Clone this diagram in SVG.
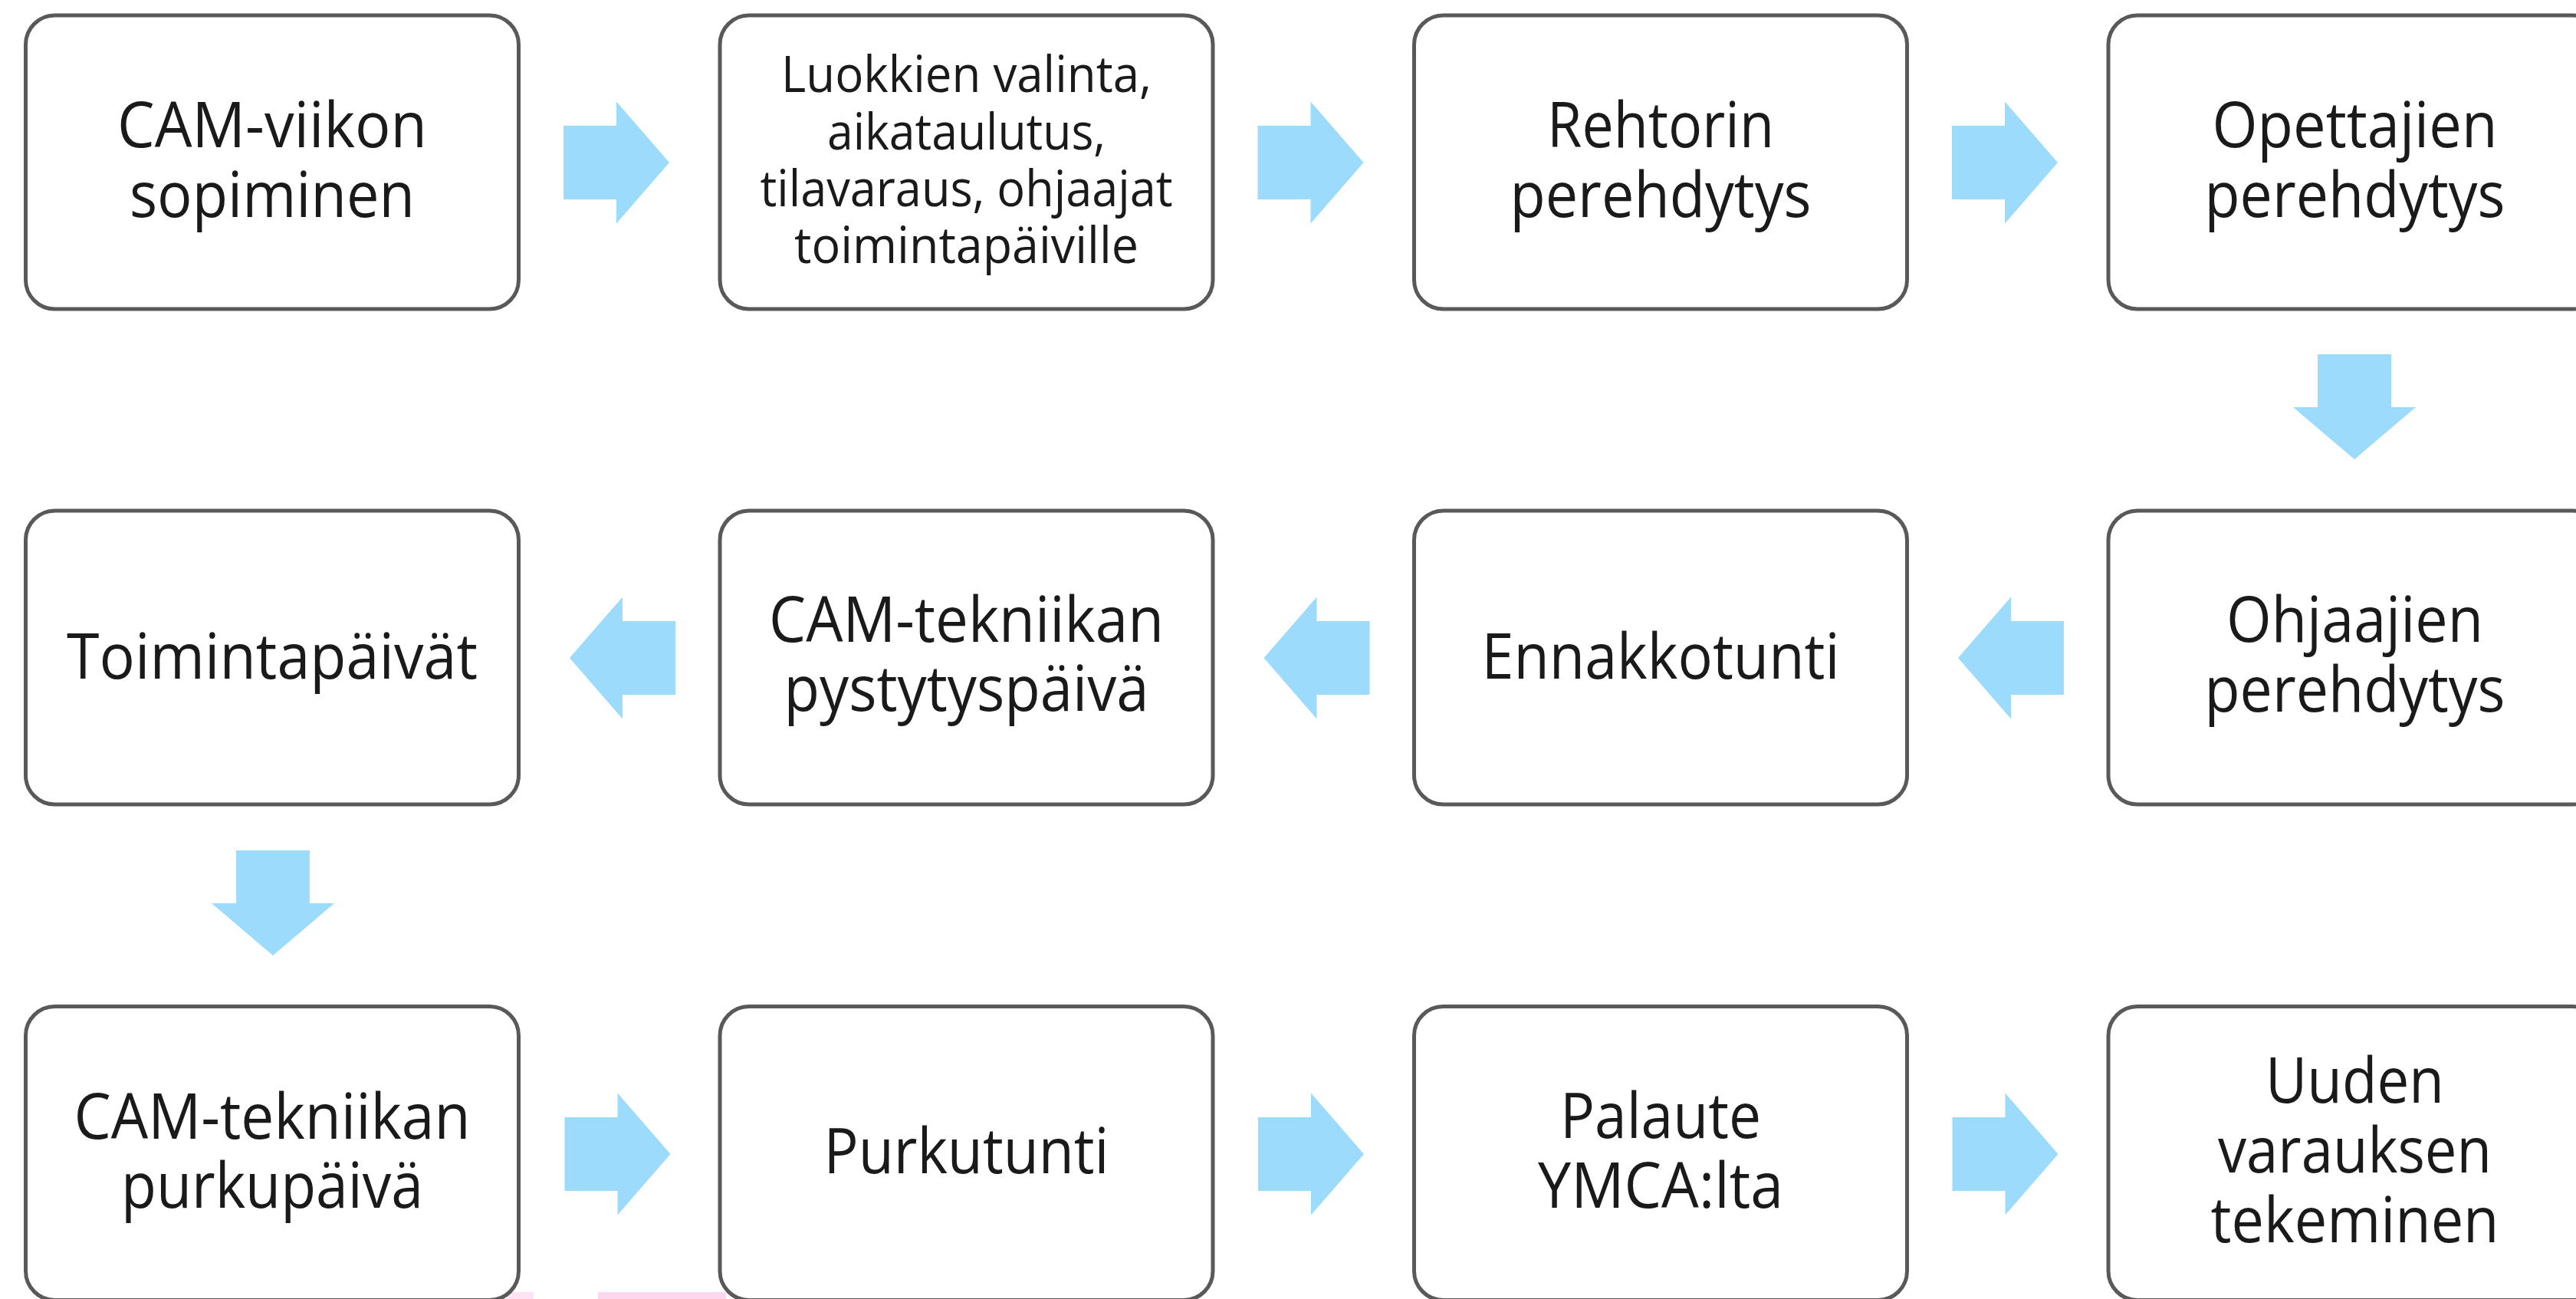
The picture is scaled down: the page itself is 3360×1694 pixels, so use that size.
<svg xmlns="http://www.w3.org/2000/svg" xmlns:xlink="http://www.w3.org/1999/xlink" width="3360" height="1694" viewBox="0 0 3360 1694">
<style>
.box{fill:#ffffff;stroke:#595959;stroke-width:5}
.t{font-family:"Open Sans","Noto Sans","Liberation Sans",sans-serif;font-size:82px;fill:#1a1a1a;text-anchor:middle}
.s{font-size:66px}
.arr{fill:#9cdbfc}
</style>
<defs>
<path id="arrR" d="M0 -48 H69 V-79.5 L138 0 L69 79.5 V48 H0 Z"/>
<path id="arrL" d="M0 0 L69 -79.5 V-48 H138 V48 H69 V79.5 Z"/>
<path id="arrD" d="M-48 0 H48 V69 H80 L0 137 L-80 69 H-48 Z"/>
</defs>
<rect width="3360" height="1694" fill="#ffffff"/>
<g id="page-artifact">
<rect x="662" y="1685" width="34" height="9" fill="#fde3f3"/>
<rect x="780" y="1685" width="167" height="9" fill="#fcd7ee"/>
</g>
<g id="n1"><rect class="box" x="33.5" y="20" width="643" height="383" rx="38"/>
<text class="t"><tspan x="355" y="192" textLength="404" lengthAdjust="spacingAndGlyphs">CAM-viikon</tspan><tspan x="355" y="283" textLength="372" lengthAdjust="spacingAndGlyphs">sopiminen</tspan></text></g>
<g id="n2"><rect class="box" x="939" y="20" width="643" height="383" rx="38"/>
<text class="t s"><tspan x="1260.5" y="120" textLength="483" lengthAdjust="spacingAndGlyphs">Luokkien valinta,</tspan><tspan x="1260.5" y="195" textLength="363" lengthAdjust="spacingAndGlyphs">aikataulutus,</tspan><tspan x="1260.5" y="269" textLength="538" lengthAdjust="spacingAndGlyphs">tilavaraus, ohjaajat</tspan><tspan x="1260.5" y="343" textLength="449" lengthAdjust="spacingAndGlyphs">toimintapäiville</tspan></text></g>
<g id="n3"><rect class="box" x="1844.5" y="20" width="643" height="383" rx="38"/>
<text class="t"><tspan x="2166" y="192" textLength="296" lengthAdjust="spacingAndGlyphs">Rehtorin</tspan><tspan x="2166" y="283" textLength="393" lengthAdjust="spacingAndGlyphs">perehdytys</tspan></text></g>
<g id="n4"><rect class="box" x="2750" y="20" width="643" height="383" rx="38"/>
<text class="t"><tspan x="3071.5" y="192" textLength="372" lengthAdjust="spacingAndGlyphs">Opettajien</tspan><tspan x="3071.5" y="283" textLength="392" lengthAdjust="spacingAndGlyphs">perehdytys</tspan></text></g>
<g id="n5"><rect class="box" x="2750" y="666" width="643" height="383" rx="38"/>
<text class="t"><tspan x="3071.5" y="837" textLength="335" lengthAdjust="spacingAndGlyphs">Ohjaajien</tspan><tspan x="3071.5" y="928" textLength="392" lengthAdjust="spacingAndGlyphs">perehdytys</tspan></text></g>
<g id="n6"><rect class="box" x="1844.5" y="666" width="643" height="383" rx="38"/>
<text class="t"><tspan x="2166" y="885" textLength="467" lengthAdjust="spacingAndGlyphs">Ennakkotunti</tspan></text></g>
<g id="n7"><rect class="box" x="939" y="666" width="643" height="383" rx="38"/>
<text class="t"><tspan x="1260.5" y="837" textLength="515" lengthAdjust="spacingAndGlyphs">CAM-tekniikan</tspan><tspan x="1260.5" y="927" textLength="476" lengthAdjust="spacingAndGlyphs">pystytyspäivä</tspan></text></g>
<g id="n8"><rect class="box" x="33.5" y="666" width="643" height="383" rx="38"/>
<text class="t"><tspan x="355" y="885" textLength="536" lengthAdjust="spacingAndGlyphs">Toimintapäivät</tspan></text></g>
<g id="n9"><rect class="box" x="33.5" y="1312.5" width="643" height="383" rx="38"/>
<text class="t"><tspan x="355" y="1485" textLength="517" lengthAdjust="spacingAndGlyphs">CAM-tekniikan</tspan><tspan x="355" y="1575" textLength="394" lengthAdjust="spacingAndGlyphs">purkupäivä</tspan></text></g>
<g id="n10"><rect class="box" x="939" y="1312.5" width="643" height="383" rx="38"/>
<text class="t"><tspan x="1260.5" y="1530" textLength="372" lengthAdjust="spacingAndGlyphs">Purkutunti</tspan></text></g>
<g id="n11"><rect class="box" x="1844.5" y="1312.5" width="643" height="383" rx="38"/>
<text class="t"><tspan x="2166" y="1484" textLength="262" lengthAdjust="spacingAndGlyphs">Palaute</tspan><tspan x="2166" y="1575" textLength="320" lengthAdjust="spacingAndGlyphs">YMCA:lta</tspan></text></g>
<g id="n12"><rect class="box" x="2750" y="1312.5" width="643" height="383" rx="38"/>
<text class="t"><tspan x="3071.5" y="1438" textLength="233" lengthAdjust="spacingAndGlyphs">Uuden</tspan><tspan x="3071.5" y="1529" textLength="357" lengthAdjust="spacingAndGlyphs">varauksen</tspan><tspan x="3071.5" y="1620" textLength="376" lengthAdjust="spacingAndGlyphs">tekeminen</tspan></text></g>
<g id="connectors" class="arr">
<use xlink:href="#arrR" href="#arrR" x="735" y="212"/>
<use xlink:href="#arrR" href="#arrR" x="1640.5" y="212"/>
<use xlink:href="#arrR" href="#arrR" x="2546" y="212"/>
<use xlink:href="#arrD" href="#arrD" x="3071" y="462"/>
<use xlink:href="#arrL" href="#arrL" x="2554" y="858"/>
<use xlink:href="#arrL" href="#arrL" x="1648.5" y="858"/>
<use xlink:href="#arrL" href="#arrL" x="743" y="858"/>
<use xlink:href="#arrD" href="#arrD" x="356" y="1109"/>
<use xlink:href="#arrR" href="#arrR" x="736.5" y="1505"/>
<use xlink:href="#arrR" href="#arrR" x="1641" y="1505"/>
<use xlink:href="#arrR" href="#arrR" x="2546.5" y="1505"/>
</g>
</svg>
